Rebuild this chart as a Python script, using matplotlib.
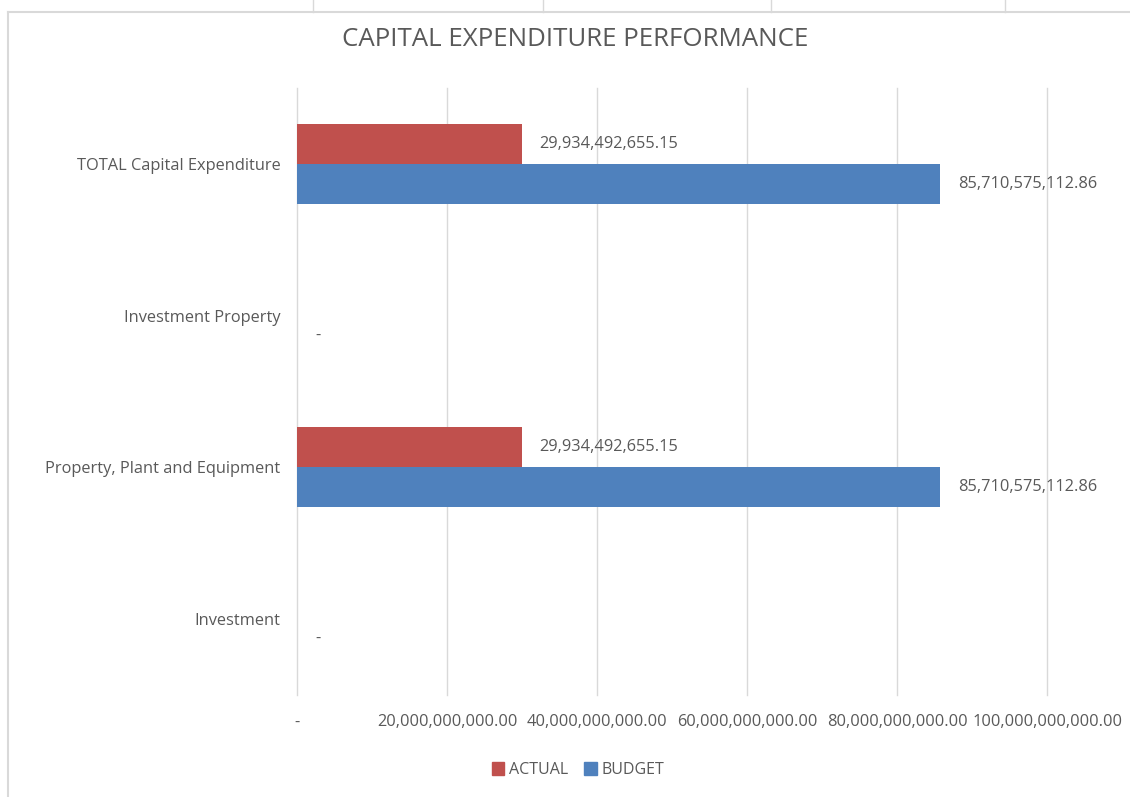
import matplotlib.pyplot as plt
import matplotlib.ticker as mticker
from matplotlib.lines import Line2D
import numpy as np

# --- Data ---
categories = ["Investment", "Property, Plant and Equipment",
              "Investment Property", "TOTAL Capital Expenditure"]
actual = [None, 29934492655.15, None, 29934492655.15]
budget = [0.0, 85710575112.86, 0.0, 85710575112.86]
xticks = [0, 20e9, 40e9, 60e9, 80e9, 100e9]

RED = "#C0504D"
BLUE = "#4F81BD"
TXT = "#595959"
GRID = "#D9D9D9"

plt.rcParams['font.family'] = ['Open Sans', 'DejaVu Sans']

def money(v):
    if v == 0:
        return "-"
    return f"{v:,.2f}"

fig = plt.figure(figsize=(11.3, 7.97), dpi=100)
ax = fig.add_axes([297 / 1130, 1 - 695 / 797, 750 / 1130, 607 / 797])

y = np.arange(len(categories))
h = 0.263

for i, (a, b) in enumerate(zip(actual, budget)):
    if a is not None:
        ax.barh(y[i] + h / 2, a, height=h, color=RED)
        ax.text(a + 2.4e9, y[i] + h / 2, money(a), va='center', ha='left',
                fontsize=11.8, color=TXT)
    ax.barh(y[i] - h / 2, b, height=h, color=BLUE)
    ax.text(b + 2.4e9, y[i] - h / 2, money(b), va='center', ha='left',
            fontsize=11.8, color=TXT)

ax.set_xlim(0, 100e9)
ax.set_ylim(-0.5, 3.5)
ax.set_xticks(xticks)
ax.xaxis.set_major_formatter(mticker.FuncFormatter(lambda v, p: money(v)))
ax.set_yticks(y)
ax.set_yticklabels(categories)
ax.tick_params(axis='both', length=0, labelsize=11.8, labelcolor=TXT)
ax.tick_params(axis='x', pad=14)
ax.tick_params(axis='y', pad=12)
ax.grid(axis='x', color=GRID, linewidth=1)
for gl in ax.get_xgridlines():
    gl.set_clip_on(False)
ax.set_axisbelow(True)
for s in ax.spines.values():
    s.set_visible(False)

fig.text(575 / 1130, 1 - 40 / 797, "CAPITAL EXPENDITURE PERFORMANCE",
         ha='center', va='center', fontsize=18.6, color=TXT)

handles = [plt.Rectangle((0, 0), 1, 1, color=RED),
           plt.Rectangle((0, 0), 1, 1, color=BLUE)]
fig.legend(handles, ["ACTUAL", "BUDGET"], loc='center',
           bbox_to_anchor=(578 / 1130, 1 - 770 / 797), ncol=2, frameon=False,
           fontsize=11.5, labelcolor=TXT, handlelength=0.8, handleheight=0.8,
           handletextpad=0.3, columnspacing=1.0)

# spreadsheet cell borders around the chart
for xp in [313, 543, 771, 1005]:
    fig.add_artist(Line2D([xp / 1130, xp / 1130], [1, 1 - 12 / 797],
                          color=GRID, linewidth=1))
fig.add_artist(Line2D([8 / 1130, 1], [1 - 12 / 797, 1 - 12 / 797],
                      color=GRID, linewidth=1.5))
fig.add_artist(Line2D([8 / 1130, 8 / 1130], [0, 1 - 12 / 797],
                      color=GRID, linewidth=1.5))

fig.savefig("out.png", dpi=100)
